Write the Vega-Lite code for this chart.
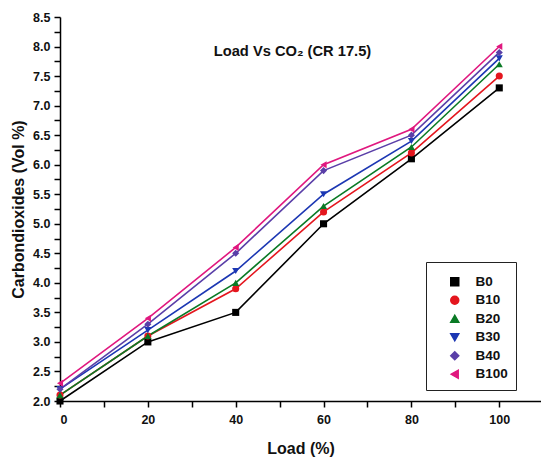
{
 "$schema": "https://vega.github.io/schema/vega-lite/v6.json",
 "width": 481,
 "height": 384,
 "padding": {"left": 10, "top": 11, "right": 0, "bottom": 5},
 "background": "white",
 "title": {"text": "Load Vs CO₂ (CR 17.5)", "offset": -48, "dx": -8, "fontSize": 14.7, "font": "Liberation Sans", "fontWeight": "bold", "color": "#111"},
 "config": {
  "view": {"stroke": null},
  "axis": {"labelFont": "Liberation Sans", "labelFontWeight": "bold", "labelFontSize": 12.5, "labelColor": "#111", "titleFont": "Liberation Sans", "titleFontWeight": "bold", "titleFontSize": 16, "titleColor": "#111", "domainColor": "#000", "tickColor": "#000", "domainWidth": 1.5, "tickWidth": 1.5, "grid": false}
 },
 "data": {"values": [
  {"load": 0, "co2": 2.0, "series": "B0"},
  {"load": 20, "co2": 3.0, "series": "B0"},
  {"load": 40, "co2": 3.5, "series": "B0"},
  {"load": 60, "co2": 5.0, "series": "B0"},
  {"load": 80, "co2": 6.1, "series": "B0"},
  {"load": 100, "co2": 7.3, "series": "B0"},
  {"load": 0, "co2": 2.1, "series": "B10"},
  {"load": 20, "co2": 3.1, "series": "B10"},
  {"load": 40, "co2": 3.9, "series": "B10"},
  {"load": 60, "co2": 5.2, "series": "B10"},
  {"load": 80, "co2": 6.2, "series": "B10"},
  {"load": 100, "co2": 7.5, "series": "B10"},
  {"load": 0, "co2": 2.1, "series": "B20"},
  {"load": 20, "co2": 3.1, "series": "B20"},
  {"load": 40, "co2": 4.0, "series": "B20"},
  {"load": 60, "co2": 5.3, "series": "B20"},
  {"load": 80, "co2": 6.3, "series": "B20"},
  {"load": 100, "co2": 7.7, "series": "B20"},
  {"load": 0, "co2": 2.2, "series": "B30"},
  {"load": 20, "co2": 3.2, "series": "B30"},
  {"load": 40, "co2": 4.2, "series": "B30"},
  {"load": 60, "co2": 5.5, "series": "B30"},
  {"load": 80, "co2": 6.4, "series": "B30"},
  {"load": 100, "co2": 7.8, "series": "B30"},
  {"load": 0, "co2": 2.2, "series": "B40"},
  {"load": 20, "co2": 3.3, "series": "B40"},
  {"load": 40, "co2": 4.5, "series": "B40"},
  {"load": 60, "co2": 5.9, "series": "B40"},
  {"load": 80, "co2": 6.5, "series": "B40"},
  {"load": 100, "co2": 7.9, "series": "B40"},
  {"load": 0, "co2": 2.3, "series": "B100"},
  {"load": 20, "co2": 3.4, "series": "B100"},
  {"load": 40, "co2": 4.6, "series": "B100"},
  {"load": 60, "co2": 6.0, "series": "B100"},
  {"load": 80, "co2": 6.6, "series": "B100"},
  {"load": 100, "co2": 8.0, "series": "B100"}
 ]},
 "encoding": {
  "x": {"field": "load", "type": "quantitative", "scale": {"domain": [0, 109.5], "nice": false}, "axis": {"values": [0, 10, 20, 30, 40, 50, 60, 70, 80, 90, 100], "labelExpr": "datum.value % 20 ? '' : datum.label", "tickSize": 6, "labelPadding": 6, "title": "Load (%)", "titlePadding": 15, "encode": {"ticks": {"update": {"y2": {"signal": "datum.value % 20 ? 3.5 : 6"}}}}}},
  "y": {"field": "co2", "type": "quantitative", "scale": {"domain": [2.0, 8.5], "nice": false, "zero": false}, "axis": {"values": [2.0, 2.25, 2.5, 2.75, 3.0, 3.25, 3.5, 3.75, 4.0, 4.25, 4.5, 4.75, 5.0, 5.25, 5.5, 5.75, 6.0, 6.25, 6.5, 6.75, 7.0, 7.25, 7.5, 7.75, 8.0, 8.25, 8.5], "labelExpr": "(datum.value * 2) % 1 ? '' : format(datum.value, '.1f')", "tickSize": 6, "labelPadding": 4, "title": "Carbondioxides (Vol %)", "titlePadding": 6, "encode": {"ticks": {"update": {"x2": {"signal": "(datum.value * 2) % 1 ? -3.5 : -6"}}}}}},
  "color": {"field": "series", "type": "nominal", "sort": ["B0", "B10", "B20", "B30", "B40", "B100"], "scale": {"domain": ["B0", "B10", "B20", "B30", "B40", "B100"], "range": ["#000000", "#e4161e", "#0a7a25", "#1c37b3", "#5a3fa8", "#e0187f"]},
   "legend": {"title": " ", "titleFontSize": 4, "titlePadding": 1, "orient": "none", "legendX": 366, "legendY": 245, "strokeColor": "#222", "padding": 8, "symbolSize": 64, "symbolOffset": 14, "labelOffset": 14, "labelFont": "Liberation Sans", "labelFontWeight": "bold", "labelFontSize": 13.5, "labelColor": "#111", "rowPadding": 3.5, "cornerRadius": 0}
  }
 },
 "layer": [
  {
   "mark": {"type": "line", "strokeWidth": 1.6}
  },
  {
   "mark": {"type": "point", "filled": true, "size": 50, "opacity": 1},
   "encoding": {
    "shape": {"field": "series", "type": "nominal", "sort": ["B0", "B10", "B20", "B30", "B40", "B100"], "scale": {"domain": ["B0", "B10", "B20", "B30", "B40", "B100"], "range": ["square", "circle", "triangle-up", "triangle-down", "diamond", "triangle-left"]},
     "legend": {"title": " ", "titleFontSize": 4, "titlePadding": 1, "orient": "none", "legendX": 366, "legendY": 245, "strokeColor": "#222", "padding": 8, "symbolSize": 64, "symbolOffset": 14, "labelOffset": 14, "labelFont": "Liberation Sans", "labelFontWeight": "bold", "labelFontSize": 13.5, "labelColor": "#111", "rowPadding": 3.5, "cornerRadius": 0}
    }
   }
  }
 ]
}
